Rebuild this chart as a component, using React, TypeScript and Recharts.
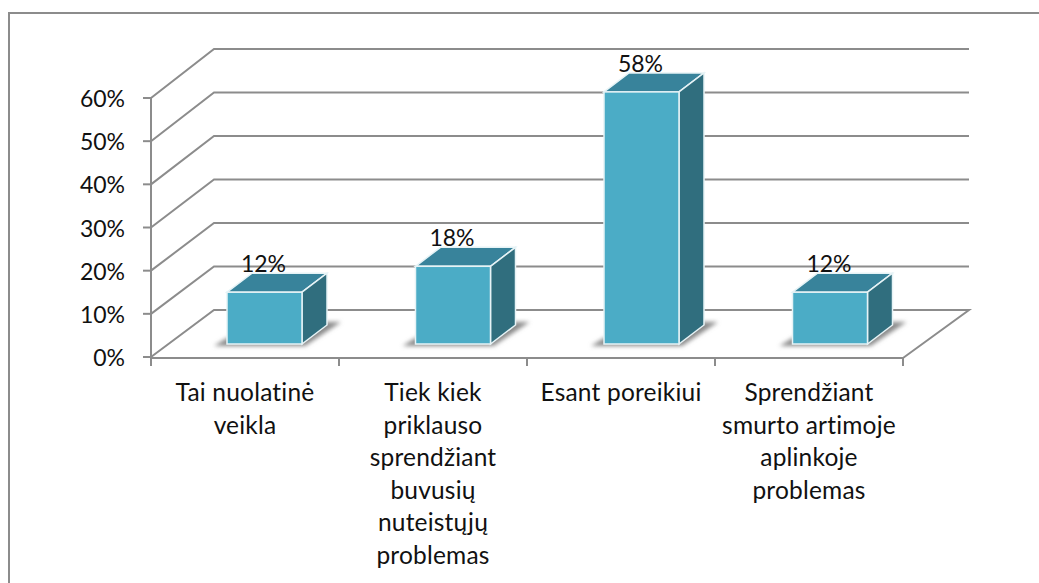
import React from 'react';
import { BarChart, Bar, XAxis, YAxis, CartesianGrid, LabelList } from 'recharts';

const categories = [
  'Tai nuolatinė\nveikla',
  'Tiek kiek\npriklauso\nsprendžiant\nbuvusių\nnuteistųjų\nproblemas',
  'Esant poreikiui',
  'Sprendžiant\nsmurto artimoje\naplinkoje\nproblemas',
];
const shares = [12, 18, 58.4, 12];
const yTicks = [0, 10, 20, 30, 40, 50, 60];
const data = categories.map((name, i) => ({ name, share: shares[i] }));

const FONT = 'Lato, "Open Sans", sans-serif';
const AXIS = '#8c8c8c';
const W = 1039;
const H = 583;
const LEFT = 151;
const RIGHT = 903;
const TOP = 98;
const BOTTOM = 357;
const BAND = (RIGHT - LEFT) / categories.length;
const BAR_DX = 19;
const BAR_DY = -13;
const DEPTH_X = 25;
const DEPTH_Y = 19;

const backOffset = (y: number) => 47 + (BOTTOM - y) / 130;

const GridLine = (props: any) => {
  const { y1, index } = props;
  const by = y1 - backOffset(y1);
  const isFloor = Math.abs(y1 - BOTTOM) < 1;
  const pts = isFloor
    ? `${LEFT},${y1} ${LEFT + 63},${by} 969,${by} ${RIGHT},${y1 + 1}`
    : `${LEFT},${y1} ${LEFT + 63},${by} 969,${by}`;
  return <polyline key={`g${index}`} points={pts} fill="none" stroke={AXIS} strokeWidth={2} />;
};

const Bar3D = (props: any) => {
  const { x, y, width, height, index } = props;
  const l = x + BAR_DX + index * 0.5;
  const t = y + BAR_DY;
  const r = l + width;
  const b = t + height;
  const edge = '#e6f3f6';
  const fid = `sh${index}`;
  return (
    <g>
      <defs>
        <filter id={fid} x="-30%" y="-50%" width="160%" height="200%">
          <feGaussianBlur stdDeviation="2.2" />
        </filter>
      </defs>
      <polygon
        points={`${l - 13},${b + 2} ${r + 3},${b + 2} ${r + 39},${b - 22} ${r + 20},${b - 22} ${l},${b - 6}`}
        fill="#8a8a8a"
        filter={`url(#${fid})`}
      />
      <polygon
        points={`${l},${t} ${l + DEPTH_X},${t - DEPTH_Y} ${r + DEPTH_X},${t - DEPTH_Y} ${r},${t}`}
        fill="#38839b"
        stroke={edge}
        strokeWidth={1.5}
      />
      <polygon
        points={`${r},${t} ${r + DEPTH_X},${t - DEPTH_Y} ${r + DEPTH_X},${b - DEPTH_Y} ${r},${b}`}
        fill="#306e7e"
        stroke={edge}
        strokeWidth={1.5}
      />
      <rect x={l} y={t} width={width} height={height} fill="#4bacc6" stroke={edge} strokeWidth={1.5} />
    </g>
  );
};

const CategoryTick = (props: any) => {
  const { x, payload, index } = props;
  const lines = String(payload.value).split('\n');
  const base = BOTTOM + 1;
  const left = x - BAND / 2;
  return (
    <g>
      <line x1={left} y1={base} x2={left} y2={base + 8} stroke={AXIS} strokeWidth={2} />
      {index === categories.length - 1 && (
        <line x1={left + BAND} y1={base} x2={left + BAND} y2={base + 8} stroke={AXIS} strokeWidth={2} />
      )}
      <text textAnchor="middle" fontFamily={FONT} fontSize={24.5} letterSpacing={0.2} fill="#111">
        {lines.map((ln, i) => (
          <tspan key={i} x={x} y={401 + i * 32.5}>
            {ln}
          </tspan>
        ))}
      </text>
    </g>
  );
};

const ValueTick = (props: any) => {
  const { x, y, payload } = props;
  return (
    <text x={x} y={y + 9} textAnchor="end" fontFamily={FONT} fontSize={23} fill="#111">
      {`${payload.value}%`}
    </text>
  );
};

const ValueLabel = (props: any) => {
  const { x, y, width, value, index } = props;
  return (
    <text
      x={x + BAR_DX + index * 0.5 + width / 2 - 1}
      y={y + BAR_DY - 20}
      textAnchor="middle"
      fontFamily={FONT}
      fontSize={23}
      fill="#111"
    >
      {`${Math.round(value)}%`}
    </text>
  );
};

export default function App() {
  return (
    <div style={{ position: 'absolute', left: 0, top: 0, width: W, height: H, overflow: 'hidden', background: '#fff' }}>
      <div
        style={{
          position: 'absolute',
          left: 8,
          top: 12,
          right: 0,
          bottom: 0,
          borderLeft: `2px solid ${AXIS}`,
          borderTop: `2px solid ${AXIS}`,
        }}
      />
      <div style={{ position: 'absolute', left: 0, top: 0 }}>
        <BarChart
          width={W}
          height={H}
          data={data}
          barSize={75}
          margin={{ top: TOP, right: W - RIGHT, bottom: 26, left: LEFT - 70 }}
        >
          <CartesianGrid vertical={false} horizontal={GridLine as any} />
          <XAxis
            dataKey="name"
            interval={0}
            height={H - BOTTOM - 26}
            tick={CategoryTick as any}
            tickLine={false}
            axisLine={{ stroke: AXIS, strokeWidth: 2, transform: 'translate(0,1)' } as any}
          />
          <YAxis
            width={70}
            domain={[0, 60]}
            ticks={yTicks}
            tick={ValueTick as any}
            tickSize={8}
            tickMargin={18}
            tickLine={{ stroke: AXIS, strokeWidth: 2 }}
            axisLine={{ stroke: AXIS, strokeWidth: 2 }}
          />
          <Bar dataKey="share" shape={Bar3D as any} isAnimationActive={false}>
            <LabelList dataKey="share" content={ValueLabel as any} />
          </Bar>
        </BarChart>
      </div>
    </div>
  );
}
